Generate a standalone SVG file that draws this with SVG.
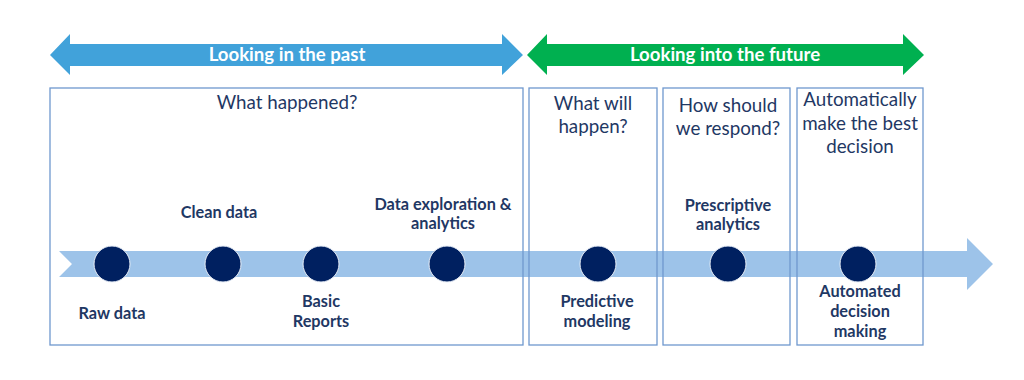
<svg xmlns="http://www.w3.org/2000/svg" width="1024" height="380" viewBox="0 0 1024 380">
<style>
.box{fill:none;stroke:#6F98CE;stroke-width:1.3}
.q{font-family:Lato,"Open Sans",sans-serif;font-size:18.8px;fill:#1F3864;text-anchor:middle}
.lbl{font-family:Lato,"Open Sans",sans-serif;font-size:16.3px;font-weight:bold;fill:#1F3864;text-anchor:middle}
.hdr{font-family:Lato,"Open Sans",sans-serif;font-size:18.6px;font-weight:bold;fill:#FFFFFF;text-anchor:middle}
.dot{fill:#002060;stroke:#E8EEF7;stroke-width:1}
</style>
<rect width="1024" height="380" fill="#FFFFFF"/>
<g id="past-arrow">
<polygon points="50,55 70,34 70,44 502,44 502,34 523,55 502,75 502,66 70,66 70,75" fill="#41A2DA"/>
<text class="hdr" x="287" y="61">Looking in the past</text>
</g>
<g id="future-arrow">
<polygon points="527,55 547,34 547,44 903,44 903,34 924,55 903,75 903,66 547,66 547,75" fill="#00B050"/>
<text class="hdr" x="725" y="61">Looking into the future</text>
</g>
<g id="connectors">
<polygon points="59,251 967,251 967,238 993,264 967,290 967,277 59,277 72,264" fill="#9DC3E9"/>
</g>
<g id="box-past">
<rect class="box" x="50" y="88" width="473" height="257"/>
<text class="q" x="287" y="109">What happened?</text>
</g>
<g id="box-predict">
<rect class="box" x="529" y="88" width="128" height="257"/>
<text class="q" x="593" y="110">What will</text>
<text class="q" x="593" y="133">happen?</text>
</g>
<g id="box-prescribe">
<rect class="box" x="663" y="88" width="127" height="257"/>
<text class="q" x="728" y="112">How should</text>
<text class="q" x="728" y="135">we respond?</text>
</g>
<g id="box-automate">
<rect class="box" x="797" y="88" width="126" height="257"/>
<text class="q" x="860" y="106">Automatically</text>
<text class="q" x="860" y="130">make the best</text>
<text class="q" x="860" y="153">decision</text>
</g>
<g id="raw-data">
<circle class="dot" cx="112" cy="264" r="18"/>
<text class="lbl" x="112" y="319">Raw data</text>
</g>
<g id="clean-data">
<circle class="dot" cx="223" cy="264" r="18"/>
<text class="lbl" x="219" y="218">Clean data</text>
</g>
<g id="basic-reports">
<circle class="dot" cx="321" cy="264" r="18"/>
<text class="lbl" x="321" y="307">Basic</text>
<text class="lbl" x="321" y="327">Reports</text>
</g>
<g id="data-exploration">
<circle class="dot" cx="447" cy="264" r="18"/>
<text class="lbl" x="443" y="210">Data exploration &amp;</text>
<text class="lbl" x="443" y="229">analytics</text>
</g>
<g id="predictive">
<circle class="dot" cx="598" cy="264" r="18"/>
<text class="lbl" x="597" y="307">Predictive</text>
<text class="lbl" x="597" y="327">modeling</text>
</g>
<g id="prescriptive">
<circle class="dot" cx="728" cy="264" r="18"/>
<text class="lbl" x="728" y="211">Prescriptive</text>
<text class="lbl" x="728" y="230">analytics</text>
</g>
<g id="automated">
<circle class="dot" cx="858" cy="264" r="18"/>
<text class="lbl" x="860" y="297">Automated</text>
<text class="lbl" x="860" y="317">decision</text>
<text class="lbl" x="860" y="337">making</text>
</g>
</svg>
